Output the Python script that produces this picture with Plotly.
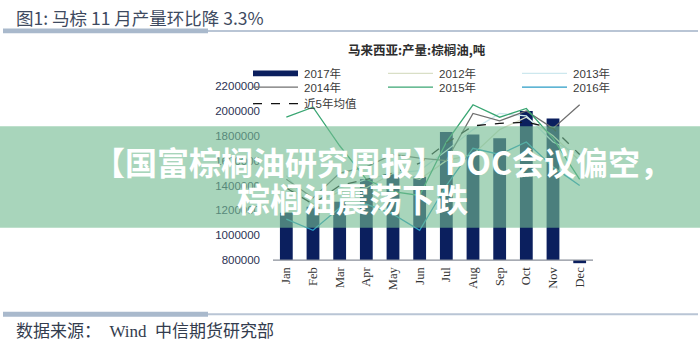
import plotly.graph_objects as go

W, H = 700, 350

months = ["Jan", "Feb", "Mar", "Apr", "May", "Jun", "Jul", "Aug", "Sep", "Oct", "Nov", "Dec"]
bars_2017 = [1180000, 1230000, 1270000, 1450000, 1490000, 1470000, 1830000, 1810000, 1780000, 2000000, 1940000, 775000]
line_2012 = [1400000, 1250000, 1350000, 1380000, 1500000, 1450000, 1600000, 1650000, 1850000, 1950000, 1800000, 1600000]
line_2013 = [1480000, 1220000, 1380000, 1450000, 1500000, 1520000, 1680000, 1850000, 1980000, 1960000, 1750000, 1650000]
line_2014 = [1450000, 1300000, 1500000, 1550000, 1650000, 1620000, 1600000, 1980000, 1920000, 2000000, 1860000, 2050000]
line_2015 = [1950000, 2030000, 1720000, 1450000, 1350000, 1320000, 1750000, 2050000, 1950000, 2020000, 1780000, 1450000]
line_2016 = [1130000, 1040000, 1220000, 1250000, 1170000, 1040000, 1400000, 1700000, 1650000, 1750000, 1550000, 1400000]
avg_5y = [1380000, 1250000, 1400000, 1450000, 1500000, 1580000, 1740000, 1880000, 1900000, 1910000, 1860000, 1650000]
y_ticks = [800000, 1000000, 1200000, 1400000, 1600000, 1800000, 2000000, 2200000]

BASE = 800000
NAVY = "#0b1f5e"
C2012 = "#d9dfc6"
C2013 = "#cde8ee"
C2014 = "#707070"
C2015 = "#3aa673"
C2016 = "#2a9cc6"

def px(x):
    return x / W

def py(y):
    return 1 - y / H

fig = go.Figure()
fig.add_trace(go.Bar(x=months, y=[v - BASE for v in bars_2017], base=BASE,
                     marker=dict(color=NAVY, line=dict(width=0)), name="2017年"))
for name, vals, col, dash in [("2012年", line_2012, C2012, "solid"),
                              ("2013年", line_2013, C2013, "solid"),
                              ("2014年", line_2014, C2014, "solid"),
                              ("2015年", line_2015, C2015, "solid"),
                              ("2016年", line_2016, C2016, "solid"),
                              ("近5年均值", avg_5y, "#111111", "dash")]:
    fig.add_trace(go.Scatter(x=months, y=vals, mode="lines", name=name,
                             line=dict(color=col, width=1.3, dash=dash)))

# y range so that 800000 sits at y=260 and 2200000 at y=82
ymin = 770000
ppu = (260 - 82) / (2200000 - 800000)
bottom_px = 260 + (800000 - ymin) * ppu

shapes = []
annos = []
# title underline and footer line
for yy in (25.5, 315.5):
    shapes.append(dict(type="rect", xref="paper", yref="paper", x0=px(3), x1=px(208),
                       y0=py(yy + 2.5), y1=py(yy - 2.5), fillcolor="#a9b9cc", line=dict(width=0)))
    shapes.append(dict(type="line", xref="paper", yref="paper", x0=px(208), x1=px(698),
                       y0=py(yy), y1=py(yy), line=dict(color="#b9c5d5", width=2)))
# x axis baseline at 800000
shapes.append(dict(type="line", xref="paper", yref="y", x0=px(273), x1=px(593),
                   y0=800000, y1=800000, line=dict(color="#8a8f9a", width=1.2)))

# manual legend
leg_items = [("2017年", "bar", NAVY, 253, 69),
             ("2012年", "solid", C2012, 388, 69),
             ("2013年", "solid", C2013, 522, 69),
             ("2014年", "solid", C2014, 253, 83),
             ("2015年", "solid", C2015, 388, 83),
             ("2016年", "solid", C2016, 522, 83),
             ("近5年均值", "dash", "#111111", 253, 100)]
for name, kind, col, x0, yy in leg_items:
    if kind == "bar":
        shapes.append(dict(type="rect", xref="paper", yref="paper", x0=px(x0), x1=px(x0 + 45),
                           y0=py(yy + 3), y1=py(yy - 3), fillcolor=col, line=dict(width=0)))
    else:
        shapes.append(dict(type="line", xref="paper", yref="paper", x0=px(x0), x1=px(x0 + 45),
                           y0=py(yy), y1=py(yy),
                           line=dict(color=col, width=1.3, dash="dash" if kind == "dash" else "solid")))
    annos.append(dict(text=name, xref="paper", yref="paper", x=px(x0 + 49), y=py(yy),
                      xanchor="left", yanchor="middle", showarrow=False,
                      font=dict(family="Liberation Sans, Noto Sans CJK SC", size=11.5, color="#3a3a3a")))

# banner overlay
shapes.append(dict(type="rect", xref="paper", yref="paper", x0=0, x1=1, y0=py(227), y1=py(123),
                   fillcolor="rgba(114,187,146,0.62)", line=dict(width=0), layer="above"))

# texts
annos.append(dict(text="图1: 马棕 11 月产量环比降 3.3%", xref="paper", yref="paper", x=px(14), y=py(11.5),
                  xanchor="left", yanchor="middle", showarrow=False,
                  font=dict(family="Noto Sans CJK SC", size=17.5, color="#3e4a60")))
annos.append(dict(text="马来西亚:产量:棕榈油,吨", xref="paper", yref="paper", x=px(417), y=py(45),
                  xanchor="center", yanchor="middle", showarrow=False,
                  font=dict(family="Noto Sans CJK SC", size=12.5, color="#2e2e2e", weight="bold")))
annos.append(dict(text="数据来源：  Wind  中信期货研究部", xref="paper", yref="paper", x=px(14), y=py(333),
                  xanchor="left", yanchor="middle", showarrow=False,
                  font=dict(family="Liberation Serif, Noto Sans CJK SC", size=17, color="#333c4e")))
annos.append(dict(text="【国富棕榈油研究周报】POC会议偏空，", xref="paper", yref="paper", x=px(382), y=py(159),
                  xanchor="center", yanchor="middle", showarrow=False,
                  font=dict(family="Noto Sans CJK SC", size=32, color="#ffffff", weight="bold")))
annos.append(dict(text="棕榈油震荡下跌", xref="paper", yref="paper", x=px(352), y=py(197),
                  xanchor="center", yanchor="middle", showarrow=False,
                  font=dict(family="Noto Sans CJK SC", size=33, color="#ffffff", weight="bold")))

fig.update_layout(
    width=W, height=H, margin=dict(l=0, r=0, t=0, b=0),
    paper_bgcolor="white", plot_bgcolor="white",
    showlegend=False, bargap=0.52,
    shapes=shapes, annotations=annos,
    xaxis=dict(domain=[px(273), px(593)], type="category", tickangle=-90,
               showline=False, showgrid=False, ticks="", zeroline=False,
               tickfont=dict(family="Liberation Serif", size=12.5, color="#333333")),
    yaxis=dict(domain=[py(bottom_px), py(82)], range=[ymin, 2200000],
               tickvals=y_ticks, ticktext=[str(v) for v in y_ticks],
               showgrid=False, zeroline=False, showline=False, ticks="",
               ticklabelstandoff=12,
               tickfont=dict(family="Liberation Sans", size=11.5, color="#2b3253")),
)

fig.write_html("out.html")
